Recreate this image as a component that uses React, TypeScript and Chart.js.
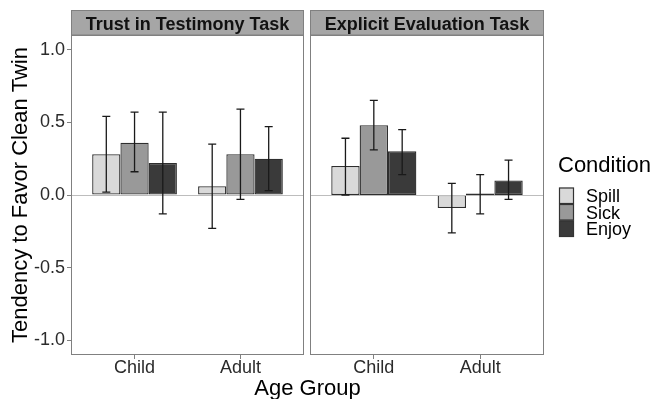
import { useEffect, useRef } from 'react';
import { Chart, registerables } from 'chart.js';

Chart.register(...registerables);

const ageGroups = ['Child', 'Adult'];
const conditions = ['Spill', 'Sick', 'Enjoy'];
const conditionColors = ['#d9d9d9', '#999999', '#3a3a3a'];
const panelTitles = ['Trust in Testimony Task', 'Explicit Evaluation Task'];
const yTicks = [-1, -0.5, 0, 0.5, 1];

// Trust in Testimony Task
const trustSpill = [0.28, 0.06];
const trustSpillLo = [0.02, -0.23];
const trustSpillHi = [0.54, 0.35];
const trustSick = [0.36, 0.28];
const trustSickLo = [0.16, -0.03];
const trustSickHi = [0.57, 0.59];
const trustEnjoy = [0.22, 0.25];
const trustEnjoyLo = [-0.13, 0.03];
const trustEnjoyHi = [0.57, 0.47];

// Explicit Evaluation Task
const explicitSpill = [0.2, -0.09];
const explicitSpillLo = [0.0, -0.26];
const explicitSpillHi = [0.39, 0.08];
const explicitSick = [0.48, 0.01];
const explicitSickLo = [0.31, -0.13];
const explicitSickHi = [0.65, 0.14];
const explicitEnjoy = [0.3, 0.1];
const explicitEnjoyLo = [0.14, -0.03];
const explicitEnjoyHi = [0.45, 0.24];

const FONT = "'Liberation Sans', Arial, Helvetica, sans-serif";

const facetPlugin = {
  id: 'facet',
  afterDatasetsDraw(chart: any, _args: any, opts: any) {
    const { ctx, chartArea: a } = chart;
    const y = chart.scales.y;
    ctx.save();
    // zero reference line
    const y0 = Math.round(y.getPixelForValue(0)) + 0.5;
    ctx.strokeStyle = '#bdbdbd';
    ctx.lineWidth = 1;
    ctx.beginPath();
    ctx.moveTo(a.left, y0);
    ctx.lineTo(a.right, y0);
    ctx.stroke();
    // error bars
    ctx.strokeStyle = '#1a1a1a';
    ctx.lineWidth = 1.3;
    chart.data.datasets.forEach((ds: any, k: number) => {
      const meta = chart.getDatasetMeta(k);
      meta.data.forEach((el: any, i: number) => {
        const x = el.x;
        const yl = y.getPixelForValue(ds.errLo[i]);
        const yh = y.getPixelForValue(ds.errHi[i]);
        ctx.beginPath();
        ctx.moveTo(x, yl);
        ctx.lineTo(x, yh);
        ctx.moveTo(x - 4, yl);
        ctx.lineTo(x + 4, yl);
        ctx.moveTo(x - 4, yh);
        ctx.lineTo(x + 4, yh);
        ctx.stroke();
      });
    });
    // panel border
    ctx.strokeStyle = '#808080';
    ctx.lineWidth = 1;
    ctx.strokeRect(a.left + 0.5, a.top + 0.5, a.right - a.left - 1, a.bottom - a.top - 1);
    ctx.restore();
  },
  afterDraw(chart: any, _args: any, opts: any) {
    const { ctx, chartArea: a } = chart;
    ctx.save();
    // strip
    const w = a.right - a.left;
    ctx.fillStyle = '#a6a6a6';
    ctx.fillRect(a.left, 10, w, 25);
    ctx.strokeStyle = '#808080';
    ctx.lineWidth = 1;
    ctx.strokeRect(a.left + 0.5, 10.5, w - 1, 24.5);
    ctx.fillStyle = '#111111';
    ctx.font = `bold 18px ${FONT}`;
    ctx.textAlign = 'center';
    ctx.textBaseline = 'alphabetic';
    ctx.fillText(opts.title, (a.left + a.right) / 2, 29.5);

    if (opts.extras) {
      // shared x-axis title
      ctx.fillStyle = '#000';
      ctx.font = `22px ${FONT}`;
      ctx.textAlign = 'center';
      ctx.fillText('Age Group', 307.5, 395);
      // legend
      ctx.textAlign = 'left';
      ctx.fillText('Condition', 558, 172);
      ctx.font = `18px ${FONT}`;
      chart.data.datasets.forEach((ds: any, k: number) => {
        const top = 187.5 + k * 16.5;
        ctx.fillStyle = ds.backgroundColor;
        ctx.fillRect(559, top, 15, 16.5);
        ctx.strokeStyle = '#333333';
        ctx.lineWidth = 1.2;
        ctx.strokeRect(559.5, top + 0.5, 14, 15.5);
        ctx.fillStyle = '#000';
        ctx.fillText(ds.label, 586, top + 14.5);
      });
    }
    ctx.restore();
  },
};

function buildConfig(panel: number, means: number[][], los: number[][], his: number[][]): any {
  const first = panel === 0;
  return {
    type: 'bar',
    data: {
      datasets: conditions.map((c, k) => ({
        label: c,
        data: ageGroups.map((_g, i) => ({ x: i + 1, y: means[k][i] })),
        errLo: los[k],
        errHi: his[k],
        backgroundColor: conditionColors[k],
        borderColor: '#2e2e2e',
        borderWidth: 1.3,
        borderSkipped: false,
        categoryPercentage: 0.8,
        barPercentage: 1,
      })),
    },
    options: {
      animation: false,
      responsive: false,
      maintainAspectRatio: false,
      events: [],
      layout: {
        padding: first
          ? { left: 0, top: 35, right: 352, bottom: 0 }
          : { left: 310, top: 35, right: 112, bottom: 0 },
      },
      plugins: {
        legend: { display: false },
        tooltip: { enabled: false },
        title: { display: false },
        facet: { title: panelTitles[panel], extras: !first },
      },
      scales: {
        x: {
          type: 'linear',
          min: 0.4,
          max: 2.6,
          offset: false,
          afterBuildTicks: (s: any) => {
            s.ticks = ageGroups.map((_g, i) => ({ value: i + 1 }));
          },
          afterFit: (s: any) => {
            s.height = 44;
          },
          ticks: {
            callback: (v: any) => ageGroups[Math.round(v) - 1] ?? '',
            font: { family: FONT, size: 18 },
            color: '#2b2b2b',
            padding: -2,
            maxRotation: 0,
            autoSkip: false,
          },
          grid: {
            display: true,
            drawOnChartArea: false,
            drawTicks: true,
            tickLength: 4,
            tickColor: '#808080',
            offset: false,
          },
          border: { display: false },
        },
        y: {
          display: first,
          min: -1.1,
          max: 1.1,
          afterBuildTicks: (s: any) => {
            s.ticks = yTicks.map((v) => ({ value: v }));
          },
          afterFit: (s: any) => {
            s.width = first ? 71 : 0;
          },
          ticks: {
            callback: (v: any) => Number(v).toFixed(1),
            font: { family: FONT, size: 18 },
            color: '#2b2b2b',
            padding: 2,
          },
          grid: {
            display: true,
            drawOnChartArea: false,
            drawTicks: true,
            tickLength: 4,
            tickColor: '#808080',
          },
          border: { display: false },
          title: {
            display: true,
            text: 'Tendency to Favor Clean Twin',
            font: { family: FONT, size: 22 },
            color: '#000',
            padding: { top: 8, bottom: 0 },
          },
        },
      },
    },
    plugins: [facetPlugin],
  };
}

export default function App() {
  const ref1 = useRef<HTMLCanvasElement | null>(null);
  const ref2 = useRef<HTMLCanvasElement | null>(null);

  useEffect(() => {
    const c1 = new Chart(
      ref1.current as HTMLCanvasElement,
      buildConfig(
        0,
        [trustSpill, trustSick, trustEnjoy],
        [trustSpillLo, trustSickLo, trustEnjoyLo],
        [trustSpillHi, trustSickHi, trustEnjoyHi]
      )
    );
    const c2 = new Chart(
      ref2.current as HTMLCanvasElement,
      buildConfig(
        1,
        [explicitSpill, explicitSick, explicitEnjoy],
        [explicitSpillLo, explicitSickLo, explicitEnjoyLo],
        [explicitSpillHi, explicitSickHi, explicitEnjoyHi]
      )
    );
    return () => {
      c1.destroy();
      c2.destroy();
    };
  }, []);

  const canvasStyle: any = { position: 'absolute', left: 0, top: 0, width: 656, height: 399 };
  return (
    <div style={{ position: 'absolute', left: 0, top: 0, width: 656, height: 399, background: '#fff' }}>
      <canvas ref={ref1} width={656} height={399} style={canvasStyle} />
      <canvas ref={ref2} width={656} height={399} style={canvasStyle} />
    </div>
  );
}
